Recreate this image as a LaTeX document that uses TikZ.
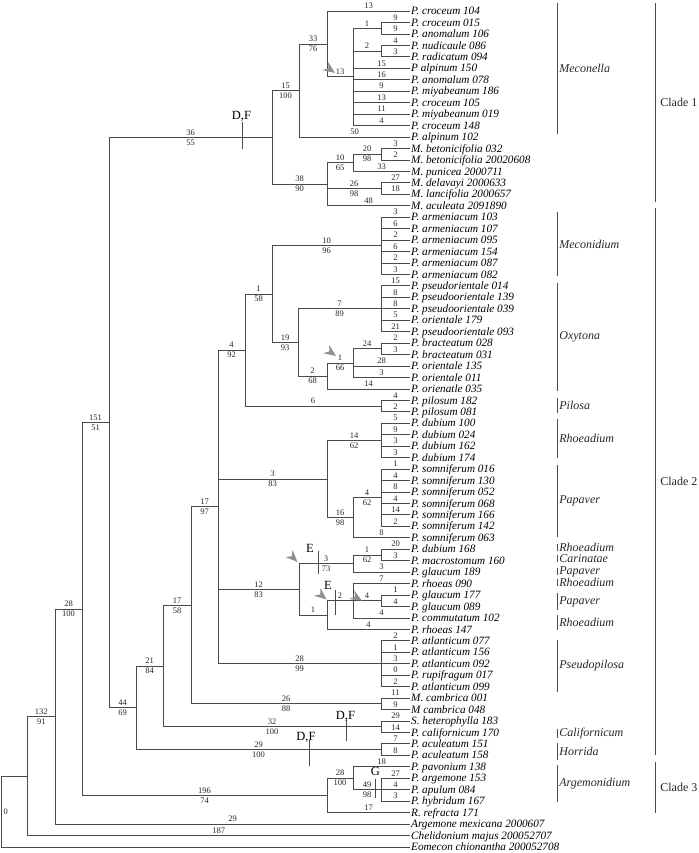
\documentclass[tikz,border=0pt]{standalone}
\usepackage{fontspec}
\setmainfont{Liberation Serif}
\usetikzlibrary{calc}
\definecolor{treegray}{HTML}{4A4A4A}
\definecolor{arrowgray}{HTML}{8E8E8E}
% branch from a node to an inner node (upper and lower value)
\newcommand{\br}[4]{\draw[branch] (#1) |- (#2) node[num, above, pos=0.75] {#3} node[num, below, pos=0.75] {#4};}
% branch from a node to a taxon
\newcommand{\lf}[3]{\draw[branch] (#1) |- (#2.west) node[num, above, pos=0.75] {#3};}

\begin{document}
\begin{tikzpicture}[x=1pt, y=-11.45pt,
  branch/.style={treegray, line width=0.7pt},
  leaf/.style={anchor=west, inner sep=1pt, text height=7.4pt, text depth=0pt,
    font=\fontsize{11.2}{12}\selectfont\itshape},
  num/.style={inner sep=1.8pt, text=black!85, font=\fontsize{8.5}{9}\selectfont},
  evt/.style={inner sep=0pt, font=\fontsize{12.5}{13}\selectfont},
  grp/.style={inner sep=2pt, text=black!85, font=\fontsize{12}{13}\selectfont\itshape},
  clade/.style={inner sep=5pt, text=black!85, font=\fontsize{12}{13}\selectfont},
  pointer/.pic={\fill[arrowgray] (0pt,0pt) -- (-12pt,5pt) -- (-8pt,0pt) -- (-12pt,-5pt) -- cycle;}]
  \useasboundingbox (0,0.0393) rectangle (698,74.537);

  % taxa
  \foreach \t [count=\i] in {P. croceum 104, P. croceum 015, P. anomalum 106, P. nudicaule 086,
      P. radicatum 094, P alpinum 150, P. anomalum 078, P. miyabeanum 186, P. croceum 105,
      P. miyabeanum 019, P. croceum 148, P. alpinum 102, M. betonicifolia 032,
      M. betonicifolia 20020608, M. punicea 2000711, M. delavayi 2000633, M. lancifolia 2000657,
      M. aculeata 2091890, P. armeniacum 103, P. armeniacum 107, P. armeniacum 095,
      P. armeniacum 154, P. armeniacum 087, P. armeniacum 082, P. pseudorientale 014,
      P. pseudoorientale 139, P. pseudoorientale 039, P. orientale 179, P. pseudoorientale 093,
      P. bracteatum 028, P. bracteatum 031, P. orientale 135, P. orientale 011, P. orienatle 035,
      P. pilosum 182, P. pilosum 081, P. dubium 100, P. dubium 024, P. dubium 162, P. dubium 174,
      P. somniferum 016, P. somniferum 130, P. somniferum 052, P. somniferum 068,
      P. somniferum 166, P. somniferum 142, P. somniferum 063, P. dubium 168,
      P. macrostomum 160, P. glaucum 189, P. rhoeas 090, P. glaucum 177, P. glaucum 089,
      P. commutatum 102, P. rhoeas 147, P. atlanticum 077, P. atlanticum 156, P. atlanticum 092,
      P. rupifragum 017, P. atlanticum 099, M. cambrica 001, M cambrica 048,
      S. heterophylla 183, P. californicum 170, P. aculeatum 151, P. aculeatum 158,
      P. pavonium 138, P. argemone 153, P. apulum 084, P. hybridum 167, R. refracta 171,
      Argemone mexicana 2000607, Chelidonium majus 200052707, Eomecon chionantha 200052708}
    \node[leaf] (l\i) at (410,\i) {\t};

  % clade 1
  \coordinate (n1) at (381,2.5);
  \coordinate (n2) at (381,4.5);
  \coordinate (n13) at (353,6.75);
  \coordinate (n33) at (327,3.875);
  \coordinate (n15) at (299,7.9375);
  \coordinate (m20) at (381,13.5);
  \coordinate (m10) at (353,14.25);
  \coordinate (m26) at (381,16.5);
  \coordinate (m38) at (327,16.125);
  \coordinate (c1) at (272,12.03125);
  \lf{n1}{l2}{9} \lf{n1}{l3}{9} \lf{n2}{l4}{4} \lf{n2}{l5}{3}
  \foreach \i/\v in {6/15,7/16,8/9,9/13,10/11,11/4} {\lf{n13}{l\i}{\v}}
  \br{n13}{n1}{1}{} \br{n13}{n2}{2}{}
  \lf{n33}{l1}{13} \br{n33}{n13}{13}{}
  \br{n15}{n33}{33}{76} \lf{n15}{l12}{50}
  \lf{m20}{l13}{3} \lf{m20}{l14}{2}
  \br{m10}{m20}{20}{98} \lf{m10}{l15}{33}
  \lf{m26}{l16}{27} \lf{m26}{l17}{18}
  \br{m38}{m10}{10}{65} \br{m38}{m26}{26}{98} \lf{m38}{l18}{48}
  \br{c1}{n15}{15}{100} \br{c1}{m38}{38}{90}

  % clade 2
  \coordinate (ar) at (381,21.5);
  \coordinate (ps) at (381,27);
  \coordinate (bt) at (381,30.5);
  \coordinate (o1) at (353,31.75);
  \coordinate (o2) at (327,32.875);
  \coordinate (o19) at (298,29.9375);
  \coordinate (o58) at (272,25.71875);
  \coordinate (pi) at (381,35.5);
  \coordinate (k4) at (245,30.609375);
  \coordinate (du) at (381,38.5);
  \coordinate (so) at (381,43.5);
  \coordinate (s16) at (353,45.25);
  \coordinate (k3) at (327,41.875);
  \coordinate (e1) at (381,48.5);
  \coordinate (e3) at (353,49.25);
  \coordinate (gl) at (381,52.5);
  \coordinate (e2) at (353,52.5);
  \coordinate (el) at (327,53.75);
  \coordinate (k12) at (299,51.5);
  \coordinate (at) at (381,58);
  \coordinate (k17a) at (218,44.3047);
  \coordinate (mc) at (381,61.5);
  \coordinate (k17b) at (191,52.9023);
  \coordinate (sc) at (381,63.5);
  \coordinate (k21) at (163,58.2012);
  \coordinate (ac) at (381,65.5);
  \coordinate (k44) at (136,61.8506);
  \coordinate (k151) at (109,36.9409);
  \foreach \i/\v in {19/3,20/6,21/2,22/6,23/2,24/3} {\lf{ar}{l\i}{\v}}
  \foreach \i/\v in {25/15,26/8,27/8,28/5,29/21} {\lf{ps}{l\i}{\v}}
  \lf{bt}{l30}{2} \lf{bt}{l31}{3}
  \br{o1}{bt}{24}{} \lf{o1}{l32}{28} \lf{o1}{l33}{3}
  \br{o2}{o1}{1}{66} \lf{o2}{l34}{14}
  \br{o19}{ps}{7}{89} \br{o19}{o2}{2}{68}
  \br{o58}{ar}{10}{96} \br{o58}{o19}{19}{93}
  \lf{pi}{l35}{4} \lf{pi}{l36}{2}
  \br{k4}{o58}{1}{58} \br{k4}{pi}{6}{}
  \foreach \i/\v in {37/5,38/9,39/3,40/3} {\lf{du}{l\i}{\v}}
  \foreach \i/\v in {41/1,42/4,43/8,44/4,45/14,46/2} {\lf{so}{l\i}{\v}}
  \br{s16}{so}{4}{62} \lf{s16}{l47}{8}
  \br{k3}{du}{14}{62} \br{k3}{s16}{16}{98}
  \lf{e1}{l48}{20} \lf{e1}{l49}{3}
  \br{e3}{e1}{1}{62} \lf{e3}{l50}{3}
  \lf{gl}{l52}{1} \lf{gl}{l53}{4}
  \lf{e2}{l51}{7} \br{e2}{gl}{4}{} \lf{e2}{l54}{4}
  \br{el}{e2}{2}{} \lf{el}{l55}{4}
  \br{k12}{e3}{3}{73} \br{k12}{el}{1}{}
  \foreach \i/\v in {56/2,57/1,58/3,59/0,60/2} {\lf{at}{l\i}{\v}}
  \br{k17a}{k4}{4}{92} \br{k17a}{k3}{3}{83} \br{k17a}{k12}{12}{83} \br{k17a}{at}{28}{99}
  \lf{mc}{l61}{11} \lf{mc}{l62}{9}
  \br{k17b}{k17a}{17}{97} \br{k17b}{mc}{26}{88}
  \lf{sc}{l63}{29} \lf{sc}{l64}{14}
  \br{k21}{k17b}{17}{58} \br{k21}{sc}{32}{100}
  \lf{ac}{l65}{7} \lf{ac}{l66}{8}
  \br{k44}{k21}{21}{84} \br{k44}{ac}{29}{100}
  \br{k151}{c1}{36}{55} \br{k151}{k44}{44}{69}

  % clade 3 and outgroups
  \coordinate (g49) at (381,69);
  \coordinate (a28) at (353,68);
  \coordinate (r196) at (327,69.5);
  \coordinate (t28) at (82,53.2205);
  \coordinate (t132) at (55,62.6102);
  \coordinate (t0) at (27.5,67.8051);
  \coordinate (root) at (1.5,70.9026);
  \lf{g49}{l68}{27} \lf{g49}{l69}{4} \lf{g49}{l70}{3}
  \lf{a28}{l67}{18} \br{a28}{g49}{49}{98}
  \br{r196}{a28}{28}{100} \lf{r196}{l71}{17}
  \br{t28}{k151}{151}{51} \br{t28}{r196}{196}{74}
  \br{t132}{t28}{28}{100} \lf{t132}{l72}{29}
  \br{t0}{t132}{132}{91} \lf{t0}{l73}{187}
  \br{root}{t0}{}{} \lf{root}{l74}{}
  \node[num, anchor=west] (rootval) at (root) {0};

  % character changes
  \node[evt] (df1) at (241.5,10.17) {D,F};
  \draw[branch] (242.3,10.67) -- (242.3,13.08);
  \node[evt] (df2) at (345.5,62.57) {D,F};
  \draw[branch] (346.5,62.92) -- (346.5,64.76);
  \node[evt] (df3) at (306,64.4) {D,F};
  \draw[branch] (309,64.67) -- (309,66.94);
  \node[evt] (ev1) at (310,47.9) {E};
  \draw[branch] (318,48.14) -- (318,50.2);
  \node[evt] (ev2) at (328,51.13) {E};
  \draw[branch] (335,51.57) -- (335,53.75);
  \node[evt] (ev3) at (375.5,67.45) {G};
  \draw[branch] (375.5,68.05) -- (375.5,69.7);
  \pic[rotate=-35] at (335,6.41) {pointer};
  \pic[rotate=-35] at (336,31.13) {pointer};
  \pic[rotate=-45] at (297.5,49.12) {pointer};
  \pic[rotate=-40] at (326.5,52.4) {pointer};
  \pic[rotate=-30] at (362,52.5) {pointer};

  % sections and clades
  \foreach \a/\b/\t in {0.3/11.74/Meconella, 18.55/24.14/Meconidium, 24.75/34.19/Oxytona,
      34.8/36.11/Pilosa, 36.63/40.04/Rhoeadium, 40.65/46.94/Papaver, 47.55/48.16/Rhoeadium,
      48.51/49.12/Carinatae, 49.65/50.26/Papaver, 50.6/51.22/Rhoeadium, 51.83/53.31/Papaver,
      53.75/55.06/Rhoeadium, 55.93/60.48/Pseudopilosa, 63.71/64.49/Californicum,
      64.93/66.42/Horrida, 66.85/70.08/Argemonidium}
    \draw[branch] (557,\a) -- (557,\b) node[grp, midway, right] {\t};
  \foreach \a/\b/\t in {0.3/17.68/Clade 1, 18.2/65.98/Clade 2, 66.59/71.04/Clade 3}
    \draw[branch] (655,\a) -- (655,\b) node[clade, midway, right] {\t};
\end{tikzpicture}
\end{document}
